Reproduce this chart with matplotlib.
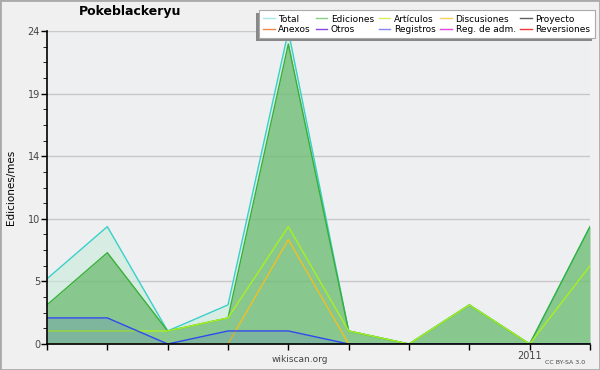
import matplotlib.pyplot as plt
from matplotlib.lines import Line2D
from matplotlib.patches import Rectangle
import numpy as np

# monthly edits, May 2010 .. Feb 2011
months = ['2010-05', '2010-06', '2010-07', '2010-08', '2010-09',
          '2010-10', '2010-11', '2010-12', '2011-01', '2011-02']
total = [5, 9, 1, 3, 24, 1, 0, 3, 0, 9]
ediciones = [3, 7, 1, 2, 23, 1, 0, 3, 0, 9]
articulos = [1, 1, 1, 2, 9, 1, 0, 3, 0, 6]
discusiones = [0, 0, 0, 0, 8, 0, 0, 0, 0, 0]
registros = [2, 2, 0, 1, 1, 0, 0, 0, 0, 0]

xlabels = ['' if m != '2011-01' else '2011' for m in months]
ytick_vals = [0, 4.8, 9.6, 14.4, 19.2, 24]
ytick_labels = ['0', '5', '10', '14', '19', '24']

legend_names = ['Total', 'Anexos', 'Ediciones', 'Otros', 'Artículos', 'Registros',
                'Discusiones', 'Reg. de adm.', 'Proyecto', 'Reversiones']
legend_colors = ['#a8e8e8', '#f08848', '#88d088', '#8848e0', '#d0f060', '#8888f0',
                 '#f8d060', '#e048e0', '#606060', '#f03838']

fig = plt.figure(figsize=(6, 3.7), dpi=100, facecolor='#f0f0f0')
ax = fig.add_axes([47/600, 26/370, 543/600, 313/370])
ax.set_facecolor('#eeeff1')

x = np.arange(len(months))

ax.fill_between(x, total, color='#c8ecdc', alpha=0.6, lw=0, zorder=2)
ax.plot(x, total, color='#38d0c8', lw=1, zorder=3)
ax.fill_between(x, ediciones, color='#3aa53a', alpha=0.5, lw=0, zorder=4)
ax.plot(x, ediciones, color='#38b038', lw=1, zorder=5)
ax.plot(x, articulos, color='#a8f020', lw=1, zorder=6)
ax.plot(x, discusiones, color='#f0c020', lw=1, zorder=6)
ax.fill_between(x, registros, color='#4050f0', alpha=0.15, lw=0, zorder=6)
ax.plot(x, registros, color='#3048f0', lw=1, zorder=7)

ax.set_xlim(0, len(months) - 1)
ax.set_ylim(0, 24)
ax.set_xticks(x)
ax.set_xticklabels(xlabels, fontsize=7, color='#444444')
ax.set_yticks(ytick_vals)
ax.set_yticklabels(ytick_labels, fontsize=7, color='#444444')
ax.set_yticks(np.arange(0, 24.01, 1.2), minor=True)
ax.tick_params(axis='both', length=4, width=1, color='black', pad=1)
ax.tick_params(axis='y', which='minor', length=3)
ax.grid(True, axis='y', color='#c8c8c8', lw=1, zorder=1)
ax.set_axisbelow(True)
for s in ['top', 'right']:
    ax.spines[s].set_visible(False)
for s in ['left', 'bottom']:
    ax.spines[s].set_linewidth(1.2)
    ax.spines[s].set_zorder(10)

ax.set_ylabel('Ediciones/mes', fontsize=7.5)
ax.yaxis.set_label_coords(-31/543, 0.5)
fig.text(130/600, 1 - 12/370, 'Pokeblackeryu', fontsize=9, fontweight='bold',
         ha='center', va='center')
fig.text(300/600, 1 - 360/370, 'wikiscan.org', fontsize=6.5, color='#444444',
         ha='center', va='center')
fig.text(565/600, 1 - 362/370, 'CC BY-SA 3.0', fontsize=4.5, color='#444444',
         ha='center', va='center')

handles = [Line2D([], [], color=c, lw=1) for c in legend_colors]
leg = fig.legend(handles, legend_names, ncol=5, loc='upper right',
                 bbox_to_anchor=(595/600, 1 - 10/370), fontsize=6.5,
                 frameon=True, fancybox=False, shadow=False, framealpha=1,
                 handlelength=1.3, handletextpad=0.4, columnspacing=0.5,
                 labelspacing=0.15, borderpad=0.5, borderaxespad=0)
leg.get_frame().set_edgecolor('#aaaaaa')
leg.get_frame().set_facecolor('white')
leg.get_frame().set_linewidth(0.8)
leg.set_zorder(6)

# grey drop shadow, offset down-left like the reference
fig.canvas.draw()
bb = leg.get_window_extent()
fig.patches.append(Rectangle((bb.x0 - 3, bb.y0 - 3), bb.width, bb.height,
                             transform=None, facecolor='#888888',
                             edgecolor='none', zorder=5))

fig.patches.append(Rectangle((0, 0), 1, 1, transform=fig.transFigure,
                             fill=False, edgecolor='#aaaaaa', lw=2))

fig.savefig('out.png', dpi=100, facecolor=fig.get_facecolor())
